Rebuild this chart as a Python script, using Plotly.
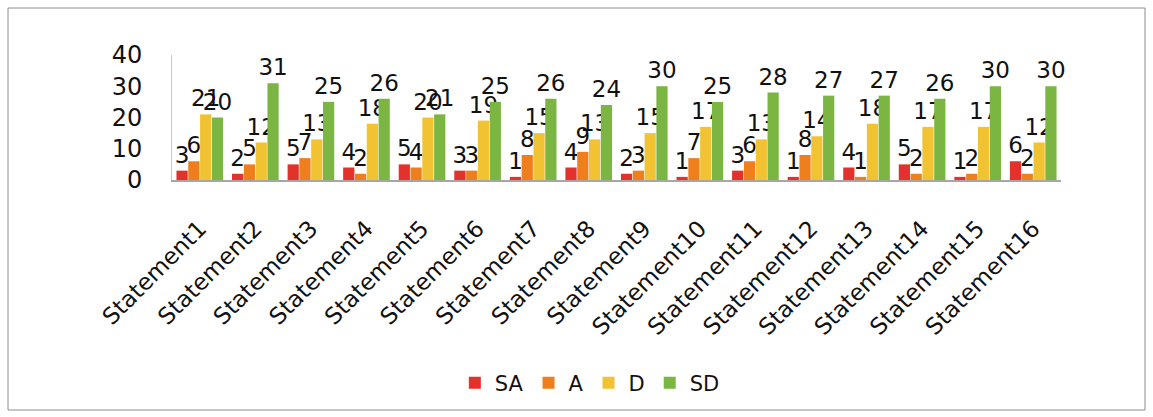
import plotly.graph_objects as go

categories = [f"Statement{i}" for i in range(1, 17)]
SA = [3, 2, 5, 4, 5, 3, 1, 4, 2, 1, 3, 1, 4, 5, 1, 6]
A = [6, 5, 7, 2, 4, 3, 8, 9, 3, 7, 6, 8, 1, 2, 2, 2]
D = [21, 12, 13, 18, 20, 19, 15, 13, 15, 17, 13, 14, 18, 17, 17, 12]
SD = [20, 31, 25, 26, 21, 25, 26, 24, 30, 25, 28, 27, 27, 26, 30, 30]

series = [("SA", SA, "#E3322B"), ("A", A, "#EF7E1C"), ("D", D, "#F1C232"), ("SD", SD, "#7BB542")]

FONT = "DejaVu Sans"

fig = go.Figure()
for name, vals, col in series:
    fig.add_trace(go.Bar(
        x=categories, y=vals, name=name,
        marker=dict(color=col, line=dict(width=0)),
        text=vals, textposition="outside", constraintext="none",
        textfont=dict(size=23, color="#111", family=FONT),
        cliponaxis=False,
    ))

L, R, T, B = 172, 92, 55, 237
W, H = 1153, 417
pw, ph = W - L - R, H - T - B

def px(x):
    return (x - L) / pw

def py(y):
    return (H - B - y) / ph

fig.update_layout(
    width=W, height=H,
    margin=dict(l=L, r=R, t=T, b=B, pad=0),
    paper_bgcolor="white", plot_bgcolor="white",
    barmode="group", bargap=0.15, bargroupgap=0.05,
    font=dict(family=FONT, color="#111"),
    showlegend=True,
    legend=dict(orientation="h", x=0.47, xanchor="center", y=py(383), yanchor="middle",
                font=dict(size=21, family=FONT), itemwidth=30, tracegroupgap=0),
    xaxis=dict(tickangle=-45, tickfont=dict(size=23, family=FONT), showline=True,
               linecolor="#A6A6A6", linewidth=2, ticks="", showgrid=False,
               ticklabelstandoff=24),
    yaxis=dict(range=[0, 40], dtick=10, tickfont=dict(size=24, family=FONT), showline=True,
               linecolor="#C8C8C8", linewidth=1, showgrid=False, ticks="", zeroline=False,
               ticklabelstandoff=24),
    shapes=[dict(type="rect", xref="paper", yref="paper",
                 x0=px(8), x1=px(1145), y0=py(410), y1=py(8),
                 line=dict(color="#8C8C8C", width=1), layer="below")],
)

fig.write_html("out.html")
